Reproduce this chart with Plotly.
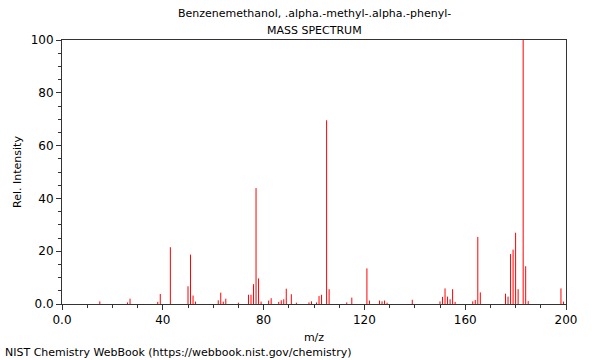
import plotly.graph_objects as go

mz = [15, 26, 27, 38, 39, 43, 50, 51, 52, 53, 62, 63, 64, 65, 70, 74, 75, 76, 77, 78, 79,
      82, 83, 86, 87, 88, 89, 91, 93, 98, 99, 101, 102, 103, 105, 106, 113, 115, 121, 122,
      126, 127, 128, 129, 139, 150, 151, 152, 153, 154, 155, 156, 163, 164, 165, 166,
      176, 177, 178, 179, 180, 181, 183, 184, 185, 198, 199]
intensity = [1.0, 0.6, 2.0, 0.8, 3.8, 21.5, 6.7, 18.7, 3.2, 0.9, 1.4, 4.3, 0.9, 2.0, 0.5, 3.5, 3.5, 7.5, 43.9, 9.7, 0.9,
             1.3, 2.2, 0.8, 1.4, 1.8, 5.8, 3.7, 0.5, 0.6, 1.0, 0.6, 3.0, 3.5, 69.6, 5.6, 0.6, 2.4, 13.5, 1.3,
             1.3, 1.0, 1.3, 0.5, 1.6, 1.0, 2.7, 5.9, 2.8, 1.8, 5.6, 0.8, 1.0, 1.5, 25.4, 4.4,
             3.9, 2.8, 18.9, 20.6, 27.0, 5.6, 100.0, 14.3, 1.1, 5.9, 0.9]

x_ticks = [0, 40, 80, 120, 160, 200]
x_ticktext = ["0.0", "40", "80", "120", "160", "200"]
y_ticks = [0, 20, 40, 60, 80, 100]
y_ticktext = ["0.0", "20", "40", "60", "80", "100"]

xs, ys = [], []
for m, i in zip(mz, intensity):
    xs += [m, m, None]
    ys += [0, i, None]

fig = go.Figure()
fig.add_trace(go.Scatter(x=xs, y=ys, mode="lines",
                         line=dict(color="#ff0000", width=1), hoverinfo="skip",
                         showlegend=False))

font = dict(family="DejaVu Sans", size=11, color="#000000")

fig.update_layout(
    width=600, height=360,
    margin=dict(l=62, r=34, t=40, b=56),
    paper_bgcolor="white", plot_bgcolor="white",
    font=font,
    showlegend=False,
    hovermode=False,
    dragmode=False,
)
axis_common = dict(showline=True, linecolor="#333333", linewidth=1, mirror=True,
                   showgrid=False, zeroline=False, ticks="outside", ticklen=5,
                   tickcolor="#333333", tickfont=dict(family="DejaVu Sans", size=12, color="#000"))
fig.update_xaxes(range=[0, 200], tickvals=x_ticks, ticktext=x_ticktext,
                 minor=dict(dtick=10, tick0=0, ticks="outside", ticklen=3, tickcolor="#333333"),
                 title=dict(text="m/z", font=dict(family="DejaVu Sans", size=11), standoff=6),
                 **axis_common)
fig.update_yaxes(range=[0, 100], tickvals=y_ticks, ticktext=y_ticktext,
                 minor=dict(dtick=5, tick0=0, ticks="outside", ticklen=3, tickcolor="#333333"),
                 title=dict(text="Rel. Intensity", font=dict(family="DejaVu Sans", size=11), standoff=6),
                 **axis_common)

fig.add_annotation(text="Benzenemethanol, .alpha.-methyl-.alpha.-phenyl-", xref="paper", yref="paper",
                   x=0.5, y=1, yshift=27, showarrow=False, font=font, xanchor="center", yanchor="middle")
fig.add_annotation(text="MASS SPECTRUM", xref="paper", yref="paper",
                   x=0.5, y=1, yshift=10, showarrow=False, font=font, xanchor="center", yanchor="middle")
fig.add_annotation(text="NIST Chemistry WebBook (https://webbook.nist.gov/chemistry)",
                   xref="paper", yref="paper", x=0, y=0, xshift=-59, yshift=-48,
                   showarrow=False, font=font, xanchor="left", yanchor="middle")

fig.write_html("out.html", config={"displayModeBar": False, "staticPlot": True},
               post_script="document.body.style.margin='0';")
